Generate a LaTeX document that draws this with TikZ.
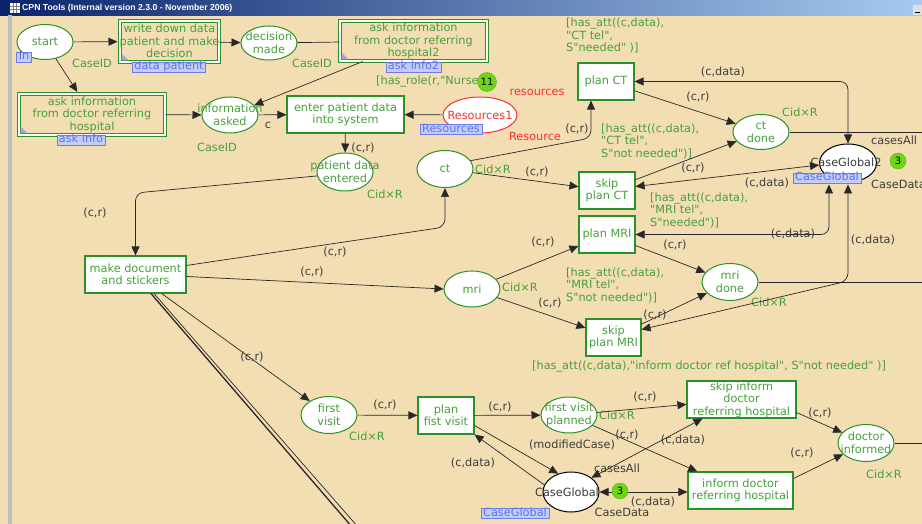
\documentclass[tikz,border=0pt]{standalone}
\usepackage{fontspec}
\setmainfont{DejaVu Sans}
\newfontfamily\cpnfam{DejaVu Sans}
\newfontfamily\titlefont{Liberation Sans}
\usetikzlibrary{shapes.geometric,arrows.meta,calc}
\definecolor{bg}{RGB}{243,221,179}
\definecolor{pgreen}{RGB}{40,145,40}
\definecolor{tgreen}{RGB}{70,160,60}
\definecolor{arcc}{RGB}{40,40,40}
\definecolor{lgrey}{RGB}{60,60,60}
\definecolor{tagfill}{RGB}{196,204,250}
\definecolor{tagdraw}{RGB}{110,125,230}
\definecolor{tagtext}{RGB}{95,115,235}
\definecolor{tokfill}{RGB}{110,215,20}
\definecolor{tokdraw}{RGB}{90,180,20}
\definecolor{rred}{RGB}{250,45,45}
\definecolor{tbleft}{RGB}{10,36,106}
\definecolor{tbright}{RGB}{166,202,240}
\definecolor{gbar}{RGB}{190,190,190}
\definecolor{markc}{RGB}{165,165,205}
\newcommand\cpnfont{\cpnfam\fontsize{11.3pt}{12.5pt}\selectfont}
\begin{document}
\begin{tikzpicture}[x=1pt,y=-1pt,
  every node/.style={font=\cpnfont},
  place/.style={ellipse, draw=pgreen, fill=white, line width=1pt, inner sep=0pt, minimum width=56pt, minimum height=36pt},
  gplace/.style={place, draw=black},
  trans/.style={rectangle, draw=pgreen, fill=white, line width=1.1pt, inner sep=0pt, minimum width=56pt, minimum height=37pt},
  subst/.style={rectangle, draw=pgreen, double=white, double distance=1.8pt, line width=1pt, inner sep=0pt},
  ntx/.style={text=tgreen, align=center, inner sep=0pt},
  lab/.style={text=lgrey, inner sep=0pt},
  typ/.style={text=tgreen, inner sep=0pt},
  guard/.style={text=tgreen, align=left, inner sep=0pt, anchor=west},
  tag/.style={fill=tagfill, draw=tagdraw, line width=0.6pt, text=tagtext, inner xsep=2pt, inner ysep=0pt, text height=8pt, text depth=2pt},
  tok/.style={circle, fill=tokfill, draw=tokdraw, line width=0.4pt, inner sep=0pt, minimum size=16pt, font=\cpnfam\fontsize{10pt}{11pt}\selectfont},
  plain/.style={draw=arcc, line width=0.7pt},
  arc/.style={plain, -{Triangle[length=9pt,width=8pt]}},
  barc/.style={plain, {Triangle[length=9pt,width=8pt]}-{Triangle[length=9pt,width=8pt]}},
  into/.style={shorten >=2pt}
]
\useasboundingbox (0,0) rectangle (922,524);
\fill[bg] (0,0) rectangle (922,524);
\shade[left color=tbleft, right color=tbright] (0,1) rectangle (922,15.5);
\fill[gbar] (8,15.5) rectangle (11.5,524);
\fill[white] (10,3.5) rectangle (19.5,13);
\draw[gray, line width=0.4pt] (10,6.5) -- (19.5,6.5) (10,9.5) -- (19.5,9.5) (13,3.5) -- (13,13) (16,3.5) -- (16,13);
\node[anchor=west, text=white, inner sep=0pt, font=\titlefont\bfseries\fontsize{8.7pt}{10pt}\selectfont] (title) at (22,8.5) {CPN Tools (Internal version 2.3.0 - November 2006)};
\fill[gray!25] (913,5) rectangle (923,15);
\draw[black, line width=0.8pt] (915,12.5) -- (919.5,12.5);

% ---------- places and transitions ----------
\node[place, minimum height=35pt] (start) at (45,42) {};
\node[ntx] (start-t) at (start) {start};
\node[typ] (start-ty) at (92,63) {CaseID};

\node[subst, minimum width=99pt, minimum height=41pt] (wdd) at (169.5,41.5) {};
\node[ntx] (wdd-t) at (169.5,41) {write down data\\patient and make\\decision};
\fill[markc] ($(wdd.south west)+(2,-2)$) -- ++(7,0) -- ++(-7,-7) -- cycle;

\node[place, minimum height=34pt] (dm) at (269,43) {};
\node[ntx] (dm-t) at (dm) {decision\\made};
\node[typ] (dm-ty) at (312,63) {CaseID};

\node[subst, minimum width=147pt, minimum height=40pt] (ai2) at (413.5,41) {};
\node[ntx] (ai2-t) at (413.5,41) {ask information\\from doctor referring\\hospital2};
\fill[markc] ($(ai2.south west)+(2,-2)$) -- ++(7,0) -- ++(-7,-7) -- cycle;

\node[subst, minimum width=146pt, minimum height=41pt] (ai) at (92,114.5) {};
\node[ntx] (ai-t) at (92,114.5) {ask information\\from doctor referring\\hospital};
\fill[markc] ($(ai.south west)+(2,-2)$) -- ++(7,0) -- ++(-7,-7) -- cycle;

\node[place] (ia) at (230,115) {};
\node[ntx] (ia-t) at (ia) {information\\asked};
\node[typ] (ia-ty) at (217,147) {CaseID};

\node[trans, minimum width=117pt] (ep) at (345.5,114.5) {};
\node[ntx] (ep-t) at (ep) {enter patient data\\into system};

\node[place, draw=rred, minimum width=74pt] (res) at (480,115) {};
\node[ntx, text=rred] (res-t) at (res) {Resources1};
\node[lab, text=rred] (res-l1) at (537,92) {resources};
\node[lab, text=rred] (res-l2) at (535,136) {Resource};
\node[guard] (g-nurse) at (376,82) {[has\_role(r,"Nurse")]};

\node[place, minimum height=38pt] (pde) at (345,172) {};
\node[ntx] (pde-t) at (pde) {patient data\\entered};
\node[typ] (pde-ty) at (385,194) {Cid×R};

\node[place, minimum height=37pt] (ct) at (445,169) {};
\node[ntx] (ct-t) at (ct) {ct};
\node[typ] (ct-ty) at (493,169) {Cid×R};

\node[trans] (planct) at (606,81.5) {};
\node[ntx] (planct-t) at (planct) {plan CT};
\node[guard] (g-ct1) at (566,35.5) {[has\_att((c,data),\\"CT tel",\\S"needed" )]};

\node[place, minimum height=35pt] (ctdone) at (761,132) {};
\node[ntx] (ctdone-t) at (ctdone) {ct\\done};
\node[typ] (ctdone-ty) at (800,112) {Cid×R};

\node[trans] (skipct) at (607,190.5) {};
\node[ntx] (skipct-t) at (skipct) {skip\\plan CT};
\node[guard] (g-ct2) at (601,141) {[has\_att((c,data),\\"CT tel",\\S"not needed")]};

\node[trans] (planmri) at (607,234.5) {};
\node[ntx] (planmri-t) at (planmri) {plan MRI};
\node[guard] (g-mri1) at (650,210) {[has\_att((c,data),\\"MRI tel",\\S"needed")]};

\node[place] (mri) at (472,289) {};
\node[ntx] (mri-t) at (mri) {mri};
\node[typ] (mri-ty) at (520,287) {Cid×R};

\node[place, minimum height=37pt] (mridone) at (730,282) {};
\node[ntx] (mridone-t) at (mridone) {mri\\done};
\node[typ] (mridone-ty) at (769,302) {Cid×R};

\node[trans, minimum width=55pt] (skipmri) at (613.5,337.5) {};
\node[ntx] (skipmri-t) at (skipmri) {skip\\plan MRI};
\node[guard] (g-mri2) at (566,285) {[has\_att((c,data),\\"MRI tel",\\S"not needed")]};

\node[guard] (g-inf) at (532,367) {[has\_att((c,data),"inform doctor ref hospital", S"not needed" )]};

\node[gplace, minimum width=57pt, minimum height=38pt] (cg2) at (848,163) {};
\node[ntx, text=lgrey] (cg2-t) at (846,162) {CaseGlobal2};
\node[lab, anchor=west] (cg2-l1) at (871,140) {casesAll};
\node[lab, anchor=west] (cg2-l2) at (871,184) {CaseData};

\node[trans, minimum width=101pt] (mdoc) at (135.5,274.5) {};
\node[ntx] (mdoc-t) at (mdoc) {make document\\and stickers};

\node[place, minimum height=37pt] (fv) at (329,415) {};
\node[ntx] (fv-t) at (fv) {first\\visit};
\node[typ] (fv-ty) at (367,436) {Cid×R};

\node[trans] (pfv) at (446,415.5) {};
\node[ntx] (pfv-t) at (pfv) {plan\\fist visit};

\node[place] (fvp) at (569,415) {};
\node[ntx] (fvp-t) at (fvp) {first visit\\planned};
\node[typ] (fvp-ty) at (617,415) {Cid×R};

\node[trans, minimum width=109pt] (sid) at (741.5,399.5) {};
\node[ntx] (sid-t) at (sid) {skip inform\\doctor\\referring hospital};

\node[trans, minimum width=105pt] (idr) at (740.5,490.5) {};
\node[ntx] (idr-t) at (idr) {inform doctor\\referring hospital};

\node[place, minimum height=37pt] (di) at (866,443) {};
\node[ntx] (di-t) at (di) {doctor\\informed};
\node[typ] (di-ty) at (884,474) {Cid×R};

\node[gplace, minimum height=40pt] (cg) at (571,492) {};
\node[ntx, text=lgrey] (cg-t) at (567,492) {CaseGlobal};
\node[lab] (cg-l1) at (617,468) {casesAll};
\node[lab] (cg-l2) at (622,512) {CaseData};

% ---------- connectors ----------
\coordinate (k1) at (135.5,193);
\coordinate (k2) at (445,227);
\coordinate (k3) at (352,527);
\coordinate (k4) at (358,527);
\coordinate (k5) at (591,138);
\coordinate (k6) at (848,81.5);
\coordinate (k7) at (829,234.5);
\coordinate (k8) at (848,281);
\coordinate (e1) at (925,132);
\coordinate (e2) at (925,282);
\coordinate (e3) at (925,443);

\draw[arc, into] (start) -- (wdd);
\draw[arc, into] (start) -- (ai);
\draw[arc] (wdd) -- (dm);
\draw[plain] (dm) -- (ai2);
\draw[arc] (ai2) -- (ia);
\draw[arc] (ai) -- (ia);
\draw[arc] (ia) -- (ep);
\draw[arc] (res) -- (ep);
\draw[arc] (ep) -- (pde);
\draw[arc, rounded corners=8pt] (pde.188) -- (k1) -- (mdoc);
\draw[arc, rounded corners=8pt] ($(mdoc.north east)+(0,10)$) -- (k2) -- (ct);
\draw[arc] ($(mdoc.east)+(0,2)$) -- (mri.west);
\draw[arc] (mdoc) -- (fv);
\draw[plain, line width=1.3pt] ($(mdoc.south)+(15.5,0)$) -- (k3);
\draw[plain] ($(mdoc.south)+(18.5,0)$) -- (k4);
\draw[arc] (ct) -- (skipct);
\draw[arc, rounded corners=8pt] (ct.18) -- (k5) -- (k5 |- planct.south);
\draw[arc] (planct) -- (ctdone);
\draw[barc, rounded corners=8pt] (planct.east) -- (k6) -- (cg2);
\draw[plain] (ctdone) -- (e1);
\draw[arc] (skipct) -- (ctdone);
\draw[barc] ($(skipct.east)+(0,-4)$) -- ($(cg2.west)+(0,2)$);
\draw[barc, rounded corners=8pt] (planmri.east) -- (k7) -- ($(k7 |- cg2.south)+(0,2)$);
\draw[barc, rounded corners=8pt] ($(skipmri.east)+(0,-8)$) -- (k8) -- ($(k8 |- cg2.south)+(0,2)$);
\draw[arc] (mri) -- (planmri);
\draw[arc] (mri) -- (skipmri);
\draw[arc] (planmri) -- (mridone);
\draw[arc] (skipmri) -- (mridone);
\draw[plain] (mridone) -- (e2);
\draw[arc] (fv) -- (pfv);
\draw[arc] (pfv) -- (fvp);
\draw[arc] (fvp) -- (sid);
\draw[arc] (fvp) -- (idr);
\draw[arc] ($(sid.east)+(0,13)$) -- (di);
\draw[arc] ($(idr.east)+(0,-12)$) -- (di);
\draw[plain] (di) -- (e3);
\draw[arc] ($(pfv.east)+(0,10)$) -- (cg.125);
\draw[arc] (cg.165) -- (pfv.south east);
\draw[barc] (cg.35) -- ($(sid.south)+(-39,0)$);
\draw[barc] (cg.east) -- (idr.west |- cg.east);

% ---------- arc inscriptions ----------
\node[lab] (l01) at (268,125) {c};
\node[lab] (l02) at (363,148) {(c,r)};
\node[lab] (l03) at (95,213) {(c,r)};
\node[lab] (l04) at (335,252) {(c,r)};
\node[lab] (l05) at (312,272) {(c,r)};
\node[lab] (l06) at (252,357) {(c,r)};
\node[lab] (l07) at (537,172) {(c,r)};
\node[lab] (l08) at (577,129) {(c,r)};
\node[lab] (l09) at (723,72) {(c,data)};
\node[lab] (l10) at (698,97) {(c,r)};
\node[lab] (l11) at (693,168) {(c,r)};
\node[lab] (l12) at (767,183) {(c,data)};
\node[lab] (l13) at (793,234) {(c,data)};
\node[lab] (l14) at (873,240) {(c,data)};
\node[lab] (l15) at (543,242) {(c,r)};
\node[lab] (l16) at (550,303) {(c,r)};
\node[lab] (l17) at (675,245) {(c,r)};
\node[lab] (l18) at (655,315) {(c,r)};
\node[lab] (l19) at (385,405) {(c,r)};
\node[lab] (l20) at (500,407) {(c,r)};
\node[lab] (l21) at (645,397) {(c,r)};
\node[lab] (l22) at (627,435) {(c,r)};
\node[lab] (l23) at (820,413) {(c,r)};
\node[lab] (l24) at (802,453) {(c,r)};
\node[lab] (l25) at (572,445) {(modifiedCase)};
\node[lab] (l26) at (473,463) {(c,data)};
\node[lab] (l27) at (683,440) {(c,data)};
\node[lab] (l28) at (653,502) {(c,data)};

% ---------- tags and tokens ----------
\node[tag] (start-tag) at (24,57) {In};
\node[tag] (wdd-tag) at (169,67) {data patient};
\node[tag] (ai2-tag) at (413.5,67) {ask info2};
\node[tag] (ai-tag) at (81,140) {ask info};
\node[tag] (res-tag) at (451,129.5) {Resources};
\node[tag] (cg2-tag) at (827,178) {CaseGlobal};
\node[tag] (cg-tag) at (515,513.5) {CaseGlobal};
\node[tok, minimum size=19pt] (tok-res) at (487,82) {11};
\node[tok] (tok-cg2) at (898,161) {3};
\node[tok] (tok-cg) at (620,491) {3};
\end{tikzpicture}
\end{document}
